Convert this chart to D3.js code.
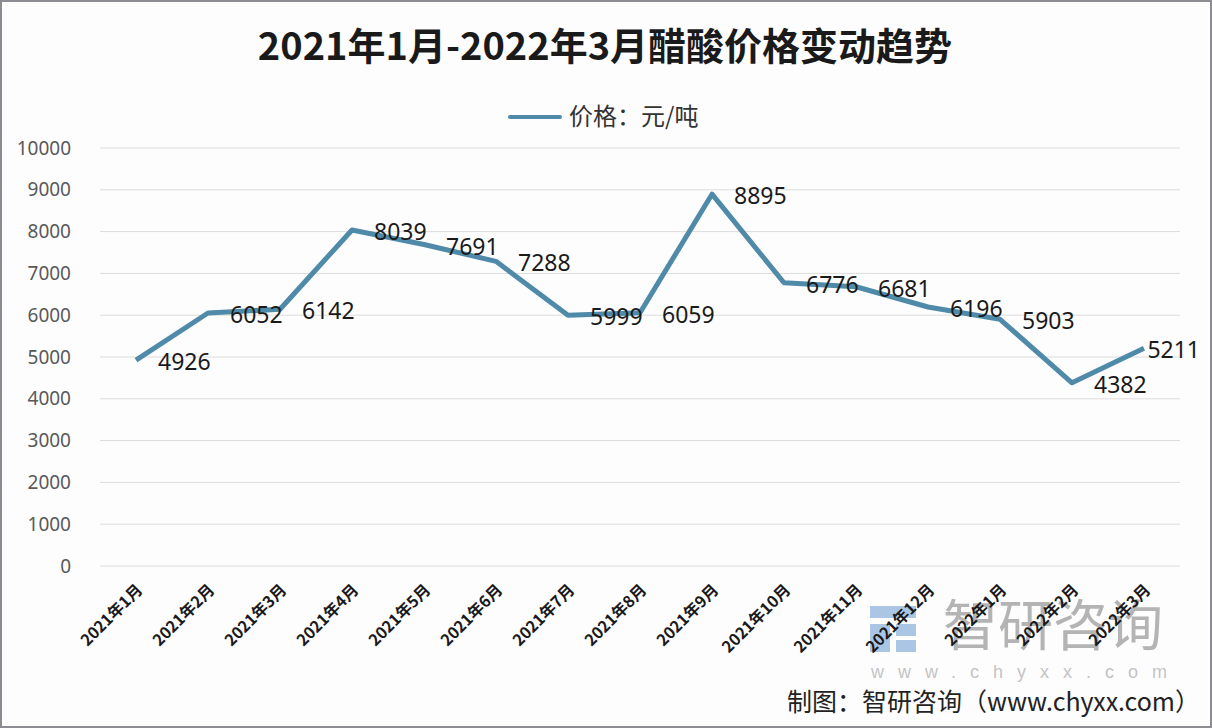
<!DOCTYPE html>
<html>
<head>
<meta charset="utf-8">
<script src="https://cdn.jsdelivr.net/npm/d3@7"></script>
<style>
  body { margin: 0; background: #fff; }
  svg { display: block; }
</style>
</head>
<body>
<svg class="chart"></svg>
<script>
let months = ['2021年1月', '2021年2月', '2021年3月', '2021年4月', '2021年5月', '2021年6月', '2021年7月',
  '2021年8月', '2021年9月', '2021年10月', '2021年11月', '2021年12月', '2022年1月', '2022年2月', '2022年3月'];
let prices = [4926, 6052, 6142, 8039, 7691, 7288, 5999, 6059, 8895, 6776, 6681, 6196, 5903, 4382, 5211];
let yTicks = [0, 1000, 2000, 3000, 4000, 5000, 6000, 7000, 8000, 9000, 10000];
let titleText = '2021年1月-2022年3月醋酸价格变动趋势';
let legendText = '价格：元/吨';

let W = 1212, H = 728;
let margin = {top: 148, right: 32, bottom: 162, left: 100},
  width = W - margin.left - margin.right, height = H - margin.top - margin.bottom;
let lineColor = '#4f8aa9';

let svg = d3.select('.chart').attr('width', W).attr('height', H);
svg.append('rect').attr('x', 1).attr('y', 1).attr('width', W - 2).attr('height', H - 2)
  .attr('fill', '#fdfdfe').attr('stroke', '#8c8c92').attr('stroke-width', 2);

let x = d3.scalePoint().domain(months).range([0, width]).padding(0.5);
let y = d3.scaleLinear().domain([0, 10000]).range([height, 0]);

// watermark (behind everything)
let wm = svg.append('g').attr('transform', 'translate(870,606)');
wm.append('rect').attr('x', 0).attr('y', 0).attr('width', 46).attr('height', 12).attr('fill', '#aac6e4');
wm.append('rect').attr('x', 0).attr('y', 18).attr('width', 20).attr('height', 28).attr('fill', '#aac6e4');
wm.append('rect').attr('x', 26).attr('y', 18).attr('width', 20).attr('height', 12).attr('fill', '#aac6e4');
wm.append('rect').attr('x', 26).attr('y', 34).attr('width', 20).attr('height', 12).attr('fill', '#aac6e4');
svg.append('text').attr('x', 1053).attr('y', 645).attr('text-anchor', 'middle')
  .style('font-family', '"Noto Sans CJK SC", sans-serif').style('font-size', '55px')
  .attr('fill', '#b4b4b4').text('智研咨询');
svg.append('text').attr('x', 1026).attr('y', 678).attr('text-anchor', 'middle')
  .style('font-family', '"Liberation Sans", sans-serif').style('font-size', '18px')
  .style('letter-spacing', '14px')
  .attr('fill', '#c4c4c4').text('www.chyxx.com');

let g = svg.append('g').attr('transform', 'translate(' + margin.left + ',' + margin.top + ')');

// grid + y labels
g.selectAll('.grid').data(yTicks).enter().append('line')
  .attr('x1', 0).attr('x2', width)
  .attr('y1', d => y(d)).attr('y2', d => y(d))
  .attr('stroke', '#dcdcdc').attr('stroke-width', 1);

let yAxis = d3.axisLeft(y).tickValues(yTicks).tickFormat(d3.format('d')).tickSize(0).tickPadding(29);
g.append('g').call(yAxis)
  .call(s => s.select('.domain').remove())
  .selectAll('text')
  .attr('fill', '#595959')
  .style('font-family', '"Noto Sans", sans-serif')
  .style('font-size', '19px');

// x labels
let xAxis = d3.axisBottom(x).tickSize(0).tickPadding(0);
g.append('g').attr('transform', 'translate(0,' + height + ')').call(xAxis)
  .call(s => s.select('.domain').remove())
  .selectAll('text')
  .attr('fill', '#1a1a1a')
  .style('font-family', '"Noto Sans CJK SC", sans-serif')
  .style('font-size', '16px')
  .style('font-weight', 'bold')
  .attr('text-anchor', 'end')
  .attr('dy', 0)
  .attr('y', 0)
  .attr('transform', 'translate(7,25) rotate(-45)');

// line
let line = d3.line().x((d, i) => x(months[i])).y(d => y(d));
g.append('path').datum(prices)
  .attr('d', line)
  .attr('fill', 'none')
  .attr('stroke', lineColor)
  .attr('stroke-width', 5)
  .attr('stroke-linejoin', 'round');

// data labels
g.selectAll('.lbl').data(prices).enter().append('text')
  .attr('class', 'lbl')
  .attr('x', (d, i) => x(months[i]) + 22)
  .attr('y', d => y(d) + 2)
  .attr('dy', '0.35em')
  .attr('fill', '#1a1a1a')
  .style('font-family', '"Noto Sans", sans-serif')
  .style('font-size', '23px')
  .text(d => d)
  .each(function() {
    let w = this.getComputedTextLength();
    let xx = +d3.select(this).attr('x');
    if (xx + w > width + 20) d3.select(this).attr('x', width + 20 - w);
  });

// title
svg.append('text').attr('x', 605).attr('y', 60).attr('text-anchor', 'middle')
  .style('font-family', '"Noto Sans CJK SC", sans-serif').style('font-size', '38px')
  .style('font-weight', 'bold').attr('fill', '#1a1a1a').text(titleText);

// legend
svg.append('line').attr('x1', 510).attr('x2', 560).attr('y1', 117).attr('y2', 117)
  .attr('stroke', lineColor).attr('stroke-width', 4).attr('stroke-linecap', 'round');
svg.append('text').attr('x', 569).attr('y', 125)
  .style('font-family', '"Noto Sans CJK SC", sans-serif').style('font-size', '24px')
  .attr('fill', '#333').text(legendText);

// footer
svg.append('text').attr('x', 1200).attr('y', 711).attr('text-anchor', 'end')
  .style('font-family', '"Noto Sans CJK SC", sans-serif').style('font-size', '25px')
  .attr('fill', '#222').text('制图：智研咨询（www.chyxx.com）');
</script>
</body>
</html>
